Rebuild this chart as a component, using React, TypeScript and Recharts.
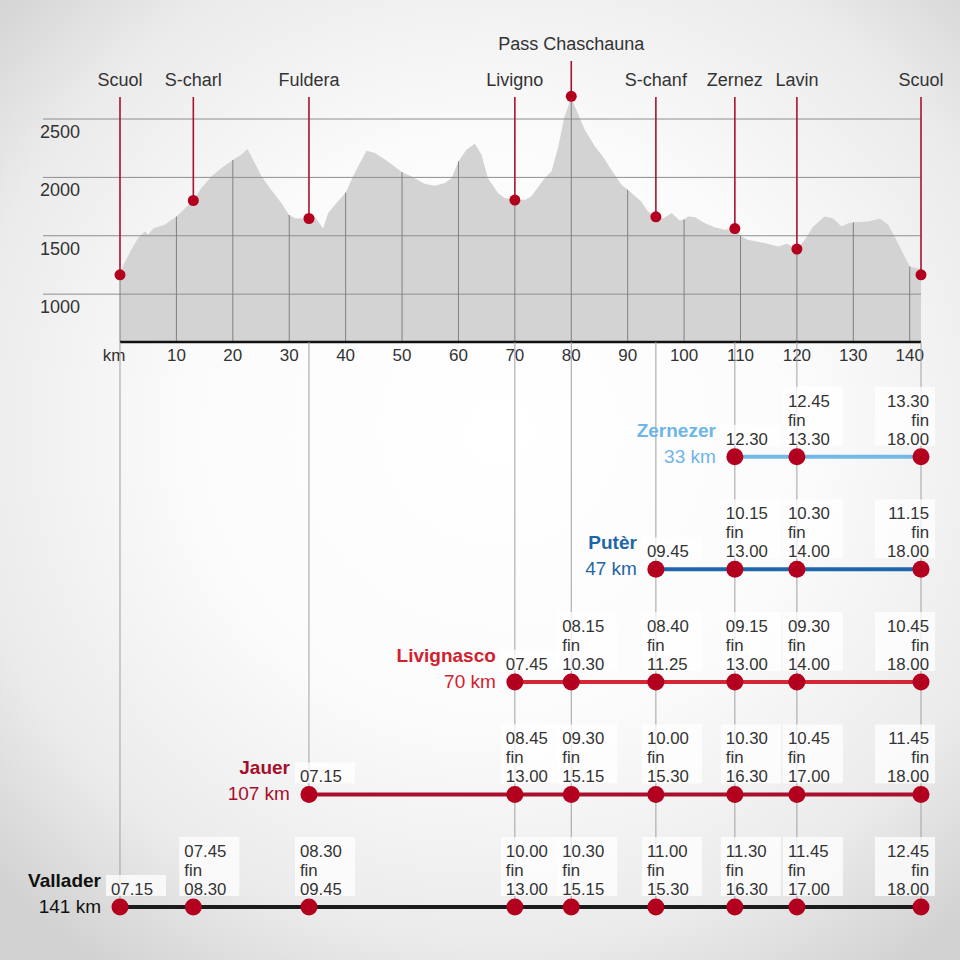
import React from "react";
import {
  Area,
  ComposedChart,
  LabelList,
  Line,
  ReferenceLine,
  Scatter,
  XAxis,
  YAxis,
} from "recharts";

// elevation profile
const profileKm = [
  0, 0.8, 2, 3.2, 4.4, 5, 5.9, 7.9, 10, 13, 14.4, 16.2, 18, 20, 21.5, 22.6, 23.3, 25.1, 26.8, 28.6,
  30, 31, 33.5, 34.5, 36, 36.9, 38.1, 40, 41.6, 43.7, 45.2, 47.5, 50, 51.7, 54, 55.8, 57.6, 58.8,
  60, 61.4, 62.9, 64.1, 65.2, 67, 68.2, 70, 71.8, 72.9, 75.3, 76.5, 77.7, 78.8, 80, 80.9, 82.4,
  84.2, 85.6, 87.1, 88.9, 90, 90.7, 92.4, 93.6, 95, 96.3, 97.8, 99.2, 100, 100.7, 101.9, 103.7,
  105.4, 107.2, 109, 110, 111.3, 114.3, 116.7, 118.2, 120, 121.4, 122.9, 124.9, 126.4, 127.9,
  129.1, 130, 132.6, 134.7, 136.2, 137.9, 140, 141.2, 142,
];
const profileElev = [
  1190, 1266, 1380, 1480, 1537, 1508, 1565, 1594, 1665, 1802, 1908, 2008, 2080, 2148, 2194, 2243,
  2180, 2008, 1894, 1780, 1678, 1651, 1648, 1665, 1565, 1694, 1765, 1868, 2037, 2228, 2208, 2137,
  2045, 2008, 1945, 1928, 1951, 1994, 2137, 2237, 2288, 2194, 1994, 1866, 1823, 1806, 1808, 1837,
  1994, 2051, 2265, 2522, 2680, 2580, 2408, 2265, 2180, 2065, 1937, 1894, 1866, 1794, 1708, 1662,
  1651, 1694, 1631, 1640, 1665, 1660, 1608, 1574, 1551, 1562, 1500, 1465, 1437, 1408, 1431, 1386,
  1465, 1580, 1665, 1651, 1580, 1608, 1615, 1622, 1645, 1594, 1437, 1237, 1223, 1215,
];

// places on the route
const stationNames = ["Scuol", "S-charl", "Fuldera", "Livigno", "Pass Chaschauna", "S-chanf", "Zernez", "Lavin", "Scuol"];
const stationKm = [0, 13, 33.5, 70, 80, 95, 109, 120, 142];
const stationElev = [1165, 1802, 1648, 1806, 2694, 1662, 1562, 1386, 1165];

const kmTicks = [0, 10, 20, 30, 40, 50, 60, 70, 80, 90, 100, 110, 120, 130, 140];
const elevTicks = [1000, 1500, 2000, 2500];

// races
const valladerKm = [0, 13, 33.5, 70, 80, 95, 109, 120, 142];
const valladerTimes = ["07.15", "07.45 fin 08.30", "08.30 fin 09.45", "10.00 fin 13.00", "10.30 fin 15.15", "11.00 fin 15.30", "11.30 fin 16.30", "11.45 fin 17.00", "12.45 fin 18.00"];
const jauerKm = [33.5, 70, 80, 95, 109, 120, 142];
const jauerTimes = ["07.15", "08.45 fin 13.00", "09.30 fin 15.15", "10.00 fin 15.30", "10.30 fin 16.30", "10.45 fin 17.00", "11.45 fin 18.00"];
const livignascoKm = [70, 80, 95, 109, 120, 142];
const livignascoTimes = ["07.45", "08.15 fin 10.30", "08.40 fin 11.25", "09.15 fin 13.00", "09.30 fin 14.00", "10.45 fin 18.00"];
const puterKm = [95, 109, 120, 142];
const puterTimes = ["09.45", "10.15 fin 13.00", "10.30 fin 14.00", "11.15 fin 18.00"];
const zernezerKm = [109, 120, 142];
const zernezerTimes = ["12.30", "12.45 fin 13.30", "13.30 fin 18.00"];

const routeNames = ["Vallader", "Jauer", "Livignasco", "Putèr", "Zernezer"];
const routeLengths = ["141 km", "107 km", "70 km", "47 km", "33 km"];
const routeColors = ["#1c1c1c", "#a8102c", "#d52633", "#1e66aa", "#74b8ea"];
const routeTextColors = ["#111111", "#a50f2d", "#d3202f", "#1f66a6", "#6fb5e8"];

// vertical guides below the axis and the route row they run down to
const guideKm = [0, 33.5, 70, 80, 95, 109, 120, 142];
const guideEndRow = [0, 1, 0, 0, 0, 0, 0, 0];

const X_DOMAIN: [number, number] = [-13.65, 142];
const ELEV_MIN = 590;
const ROW_TOP = 5.02;
const TEXT = "#333333";
const RED_DOT = "#b3001e";
const LINE_H = 19;

const profileData = profileKm.map((km, i) => ({ km, elev: profileElev[i] }));
const stations = stationKm.map((km, i) => ({ km, elev: stationElev[i], name: stationNames[i] }));
const gridTops = kmTicks.map((k) => profileData.find((p) => p.km === k)?.elev ?? ELEV_MIN);

const routes = [
  { km: valladerKm, times: valladerTimes },
  { km: jauerKm, times: jauerTimes },
  { km: livignascoKm, times: livignascoTimes },
  { km: puterKm, times: puterTimes },
  { km: zernezerKm, times: zernezerTimes },
].map((r, row) => ({
  ...r,
  row,
  name: routeNames[row],
  length: routeLengths[row],
  color: routeColors[row],
  textColor: routeTextColors[row],
  data: r.km.map((k, i) => ({ km: k, row, time: r.times[i] })),
}));

const StationMarker = (props: any) => {
  const { cx, cy, payload } = props;
  const top = cy < 110 ? 61 : 97;
  return (
    <g>
      <line x1={cx} y1={top} x2={cx} y2={cy} stroke="#a8122f" strokeWidth={1.6} />
      <circle cx={cx} cy={cy} r={5.5} fill={RED_DOT} />
      <text x={cx} y={top - 11.5} textAnchor="middle" fontSize={18} fill={TEXT}>
        {payload.name}
      </text>
    </g>
  );
};

const makeTimeLabel = (route: any) => (props: any) => {
  const { x, y, index, value } = props;
  const parts = String(value).split(" fin ");
  const lines = parts.length > 1 ? [parts[0], "fin", parts[1]] : [parts[0]];
  const last = index === route.km.length - 1;
  const tx = last ? x + 8 : x - 9;
  const boxW = 60;
  const boxTop = y - 32 - LINE_H * (lines.length - 1);
  const boxX = last ? x + 14 - boxW : x - 14;
  return (
    <g>
      <rect x={boxX} y={boxTop} width={boxW} height={y - 11 - boxTop} fill="#ffffff" fillOpacity={0.75} />
      <text
        x={tx}
        y={y - 12 - LINE_H * (lines.length - 1)}
        textAnchor={last ? "end" : "start"}
        fontSize={16.8}
        fill={TEXT}
      >
        {lines.map((l, i) => (
          <tspan key={i} x={tx} dy={i === 0 ? 0 : LINE_H}>
            {l}
          </tspan>
        ))}
      </text>
      {index === 0 && (
        <g>
          <text x={x - 19} y={y - 20} textAnchor="end" fontSize={19} fontWeight="bold" fill={route.textColor}>
            {route.name}
          </text>
          <text x={x - 19} y={y + 6} textAnchor="end" fontSize={19} fill={route.textColor}>
            {route.length}
          </text>
        </g>
      )}
    </g>
  );
};

const RouteDot = (props: any) => {
  const { cx, cy, index } = props;
  return <circle key={`d-${index}`} cx={cx} cy={cy} r={8.5} fill={RED_DOT} />;
};

const elevLabel = (value: number) => (p: any) => (
  <text x={40} y={p.viewBox.y + 19} fontSize={18} fill={TEXT}>
    {value}
  </text>
);

export default function App() {
  return (
    <div
      style={{
        position: "absolute",
        top: 0,
        left: 0,
        width: 960,
        height: 960,
        overflow: "hidden",
        fontFamily: "'Liberation Sans', Arial, sans-serif",
        background:
          "radial-gradient(ellipse 72% 68% at 52% 45%, #ffffff 0%, #fbfbfb 45%, #ebebeb 78%, #d2d2d2 100%)",
      }}
    >
      <div style={{ position: "absolute", top: 0, left: 0 }}>
        <ComposedChart width={960} height={372} data={profileData} margin={{ top: 84, right: 39, bottom: 0, left: 43 }}>
          <XAxis
            type="number"
            dataKey="km"
            domain={X_DOMAIN}
            ticks={kmTicks}
            axisLine={false}
            tickLine={false}
            tickSize={0}
            tickMargin={0}
            height={30}
            tick={(p: any) => (
              <text
                x={p.payload.value === 0 ? p.x - 6 : p.x}
                y={p.y + 19}
                textAnchor="middle"
                fontSize={17}
                fill={TEXT}
              >
                {p.payload.value === 0 ? "km" : p.payload.value}
              </text>
            )}
          />
          <YAxis type="number" domain={[ELEV_MIN, 2800]} ticks={elevTicks} hide />
          <Area
            type="linear"
            dataKey="elev"
            fill="#d3d3d3"
            fillOpacity={1}
            stroke="none"
            baseValue={ELEV_MIN}
            isAnimationActive={false}
          />
          {elevTicks.map((v) => (
            <ReferenceLine key={`h-${v}`} y={v} stroke="#8e8e8e" strokeWidth={1} label={elevLabel(v)} />
          ))}
          {kmTicks.map((k, i) => (
            <ReferenceLine
              key={`v-${k}`}
              segment={[
                { x: k, y: ELEV_MIN },
                { x: k, y: gridTops[i] },
              ]}
              stroke="#808080"
              strokeWidth={1}
            />
          ))}
          <ReferenceLine
            segment={[
              { x: 0, y: ELEV_MIN },
              { x: 142, y: ELEV_MIN },
            ]}
            stroke="#111111"
            strokeWidth={2.5}
          />
          <Scatter data={stations} dataKey="elev" shape={StationMarker} isAnimationActive={false} />
        </ComposedChart>
      </div>
      <div style={{ position: "absolute", top: 0, left: 0 }}>
        <ComposedChart width={960} height={960} margin={{ top: 342, right: 39, bottom: 8, left: 43 }}>
          <XAxis type="number" dataKey="km" domain={X_DOMAIN} hide />
          <YAxis type="number" dataKey="row" domain={[-0.4, ROW_TOP]} hide />
          {guideKm.map((k, i) => (
            <ReferenceLine
              key={`g-${i}`}
              segment={[
                { x: k, y: ROW_TOP },
                { x: k, y: guideEndRow[i] },
              ]}
              stroke="#a0a0a0"
              strokeWidth={1}
            />
          ))}
          {routes.map((r) => (
            <Line
              key={r.name}
              data={r.data}
              dataKey="row"
              type="linear"
              stroke={r.color}
              strokeWidth={4}
              dot={RouteDot}
              activeDot={false}
              isAnimationActive={false}
            >
              <LabelList dataKey="time" content={makeTimeLabel(r)} />
            </Line>
          ))}
        </ComposedChart>
      </div>
    </div>
  );
}
